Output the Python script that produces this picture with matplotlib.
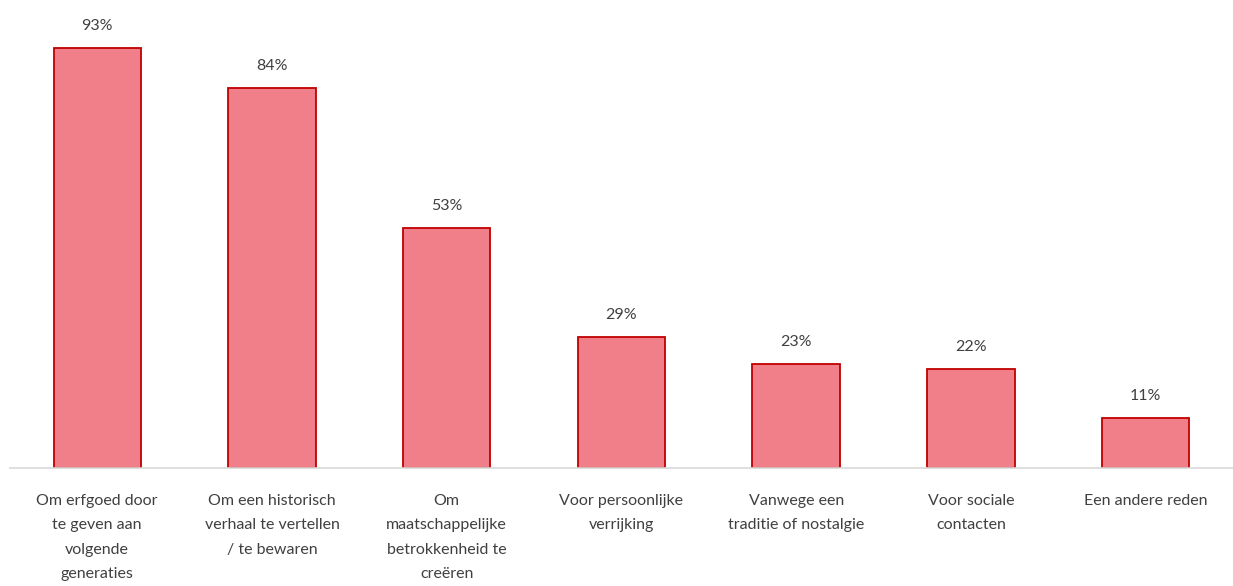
import matplotlib.pyplot as plt

# categorieën en percentages
categories = [
    'Om erfgoed door\nte geven aan\nvolgende\ngeneraties',
    'Om een historisch\nverhaal te vertellen\n/ te bewaren',
    'Om\nmaatschappelijke\nbetrokkenheid te\ncreëren',
    'Voor persoonlijke\nverrijking',
    'Vanwege een\ntraditie of nostalgie',
    'Voor sociale\ncontacten',
    'Een andere reden',
]
values = [93, 84, 53, 29, 23, 22, 11]
value_labels = ['93%', '84%', '53%', '29%', '23%', '22%', '11%']

plt.rcParams['font.family'] = ['Lato', 'DejaVu Sans']

fig = plt.figure(figsize=(12.33, 5.86), dpi=100)
ax = fig.add_axes([0.008, 0.2014, 0.992, 0.7713])

x = list(range(len(categories)))
bars = ax.bar(x, values, width=0.5, color='#F07F8A', edgecolor='#C00000', linewidth=1.3)

for b, lab in zip(bars, value_labels):
    ax.annotate(lab, (b.get_x() + b.get_width() / 2, b.get_height()),
                xytext=(0, 15), textcoords='offset pixels',
                ha='center', va='bottom', fontsize=11.5, color='#404040')

ax.set_xlim(-0.5, len(categories) - 0.5)
ax.set_ylim(0, 100)
ax.set_xticks(x)
ax.set_xticklabels(categories, fontsize=11.5, color='#404040', linespacing=1.92)
ax.tick_params(axis='x', length=0, pad=19)
ax.set_yticks([])

for s in ['top', 'right', 'left']:
    ax.spines[s].set_visible(False)
ax.spines['bottom'].set_color('#D9D9D9')
ax.spines['bottom'].set_linewidth(1.2)

plt.savefig('out.png', dpi=100)
